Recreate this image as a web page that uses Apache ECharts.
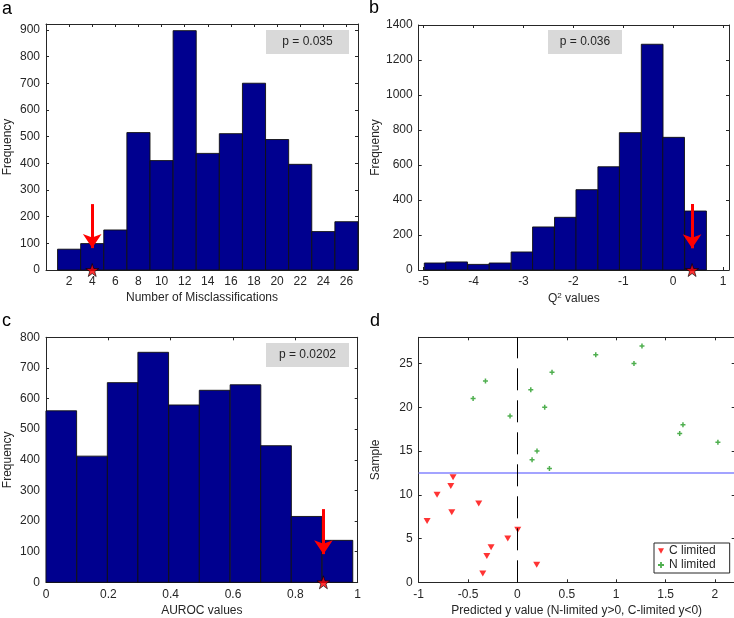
<!DOCTYPE html>
<html>
<head>
<meta charset="utf-8">
<script src="https://cdn.jsdelivr.net/npm/echarts@6/dist/echarts.min.js"></script>
<style>html,body{margin:0;padding:0;background:#fff}#c{width:734px;height:618px}</style>
</head>
<body>
<div id="c"></div>
<script>
// ---- Panel a: Number of Misclassifications ----
const aCenters = [2, 4, 6, 8, 10, 12, 14, 16, 18, 20, 22, 24, 26];
const aCounts = [78, 99, 150, 515, 410, 897, 437, 511, 700, 489, 396, 144, 181];
const aBinWidth = 2;
const aObserved = 4;
const aArrow = [247, 82];
const aXTicks = [2, 4, 6, 8, 10, 12, 14, 16, 18, 20, 22, 24, 26];
const aYTicks = [0, 100, 200, 300, 400, 500, 600, 700, 800, 900];
const aP = 'p = 0.035';

// ---- Panel b: Q2 values ----
const bCenters = [-4.77, -4.34, -3.90, -3.47, -3.03, -2.60, -2.16, -1.73, -1.29, -0.86, -0.42, 0.01, 0.45];
const bCounts = [40, 46, 32, 40, 103, 246, 301, 459, 590, 785, 1290, 758, 337];
const bBinWidth = 0.435;
const bObserved = 0.38;
const bArrow = [377, 124];
const bXTicks = [-5, -4, -3, -2, -1, 0, 1];
const bYTicks = [0, 200, 400, 600, 800, 1000, 1200, 1400];
const bP = 'p = 0.036';

// ---- Panel c: AUROC values ----
const cCenters = [0.049, 0.148, 0.246, 0.344, 0.443, 0.541, 0.640, 0.738, 0.836, 0.935];
const cCounts = [560, 412, 652, 751, 579, 627, 645, 446, 215, 137];
const cBinWidth = 0.0984;
const cObserved = 0.89;
const cArrow = [239, 92];
const cXTicks = [0, 0.2, 0.4, 0.6, 0.8, 1];
const cYTicks = [0, 100, 200, 300, 400, 500, 600, 700, 800];
const cP = 'p = 0.0202';

// ---- Panel d: predicted y values ----
const cLimitedX = [-0.351, 0.195, -0.31, -0.267, -0.098, 0.003, -0.915, -0.665, -0.392, -0.814, -0.675, -0.652];
const cLimitedY = [1, 2, 3, 4, 5, 6, 7, 8, 9, 10, 11, 12];
const nLimitedX = [0.324, 0.148, 0.198, 2.03, 1.643, 1.676, -0.075, 0.276, -0.449, 0.135, -0.324, 0.35, 1.18, 0.793, 1.261];
const nLimitedY = [13, 14, 15, 16, 17, 18, 19, 20, 21, 22, 23, 24, 25, 26, 27];
const dSplitY = 12.5;
const dXTicks = [-1, -0.5, 0, 0.5, 1, 1.5, 2];
const dYTicks = [0, 5, 10, 15, 20, 25];

const FONT = '"Liberation Sans", Arial, Helvetica, sans-serif';
const TXT = '#262626';
const AX = '#262626';
const STAR = 'path://M50,0 L61.8,35.1 L98.1,35.1 L68.8,56.8 L79.4,91 L50,70 L20.6,91 L31.2,56.8 L1.9,35.1 L38.2,35.1 Z';
const TRI_DOWN = 'path://M0,0 L10,0 L5,9 Z';
const PLUS = 'path://M3.5,0 H6.5 V3.5 H10 V6.5 H6.5 V10 H3.5 V6.5 H0 V3.5 H3.5 Z';
const GREEN = '#239b23';

const grids = [
  {left: 46, top: 24, width: 312, height: 246},
  {left: 418.7, top: 25, width: 310.3, height: 245},
  {left: 46, top: 337.3, width: 311.7, height: 245},
  {left: 418.7, top: 337.3, width: 316, height: 245}
].map(g => Object.assign({outerBoundsMode: 'none', containLabel: false}, g));

const ranges = [
  {x: [0, 27], y: [0, 922], xt: aXTicks, yt: aYTicks, xname: 'Number of Misclassifications', yname: 'Frequency', ygap: 32},
  {x: [-5.1, 1.12], y: [0, 1400], xt: bXTicks, yt: bYTicks, xname: 'Q{sup|2} values', yname: 'Frequency', ygap: 37},
  {x: [0, 1], y: [0, 800], xt: cXTicks, yt: cYTicks, xname: 'AUROC values', yname: 'Frequency', ygap: 32},
  {x: [-1, 2.2], y: [0, 28], xt: dXTicks, yt: dYTicks, xname: 'Predicted y value (N-limited y>0, C-limited y<0)', yname: 'Sample', ygap: 37}
];

const plain = v => String(v);

const xAxis = [], yAxis = [];
ranges.forEach((r, i) => {
  const lineStyle = {color: AX, width: 1};
  xAxis.push({
    type: 'value', gridIndex: i, min: r.x[0], max: r.x[1], position: 'bottom',
    axisLine: {show: true, onZero: false, lineStyle},
    axisTick: {show: true, inside: true, length: 3, customValues: r.xt, lineStyle},
    axisLabel: {show: true, customValues: r.xt, formatter: plain, color: TXT, fontFamily: FONT, fontSize: 12, margin: 6},
    splitLine: {show: false},
    name: r.xname, nameLocation: 'middle', nameGap: 22,
    nameTextStyle: {color: TXT, fontFamily: FONT, fontSize: 12,
      rich: {sup: {fontSize: 8, verticalAlign: 'top', color: TXT, fontFamily: FONT, padding: [0, 0, 6, 0]}}}
  });
  xAxis.push({
    type: 'value', gridIndex: i, min: r.x[0], max: r.x[1], position: 'top',
    axisLine: {show: true, onZero: false, lineStyle},
    axisTick: {show: true, inside: true, length: 3, customValues: r.xt, lineStyle},
    axisLabel: {show: false}, splitLine: {show: false}
  });
  yAxis.push({
    type: 'value', gridIndex: i, min: r.y[0], max: r.y[1], position: 'left',
    axisLine: {show: true, onZero: false, lineStyle},
    axisTick: {show: true, inside: true, length: 3, customValues: r.yt, lineStyle},
    axisLabel: {show: true, customValues: r.yt, formatter: plain, color: TXT, fontFamily: FONT, fontSize: 12, margin: 6},
    splitLine: {show: false},
    name: r.yname, nameLocation: 'middle', nameGap: r.ygap, nameRotate: 90,
    nameTextStyle: {color: TXT, fontFamily: FONT, fontSize: 12}
  });
  yAxis.push({
    type: 'value', gridIndex: i, min: r.y[0], max: r.y[1], position: 'right',
    axisLine: {show: true, onZero: false, lineStyle},
    axisTick: {show: true, inside: true, length: 3, customValues: r.yt, lineStyle},
    axisLabel: {show: false}, splitLine: {show: false}
  });
});

function histSeries(i, centers, counts, binWidth, obs, arrow) {
  return [{
    type: 'custom', xAxisIndex: 2 * i, yAxisIndex: 2 * i,
    data: centers.map((c, k) => [c, counts[k]]),
    renderItem: function (params, api) {
      const c = api.value(0), v = api.value(1);
      const p0 = api.coord([c - binWidth / 2, 0]);
      const p1 = api.coord([c + binWidth / 2, v]);
      return {type: 'rect',
        shape: {x: p0[0], y: p1[1], width: p1[0] - p0[0], height: p0[1] - p1[1]},
        style: {fill: '#00008F', stroke: '#111', lineWidth: 0.9}};
    },
    markLine: {
      silent: true, animation: false,
      symbol: ['none', 'arrow'], symbolSize: 14,
      label: {show: false},
      lineStyle: {color: '#ff0000', width: 3, type: 'solid'},
      data: [[{coord: [obs, arrow[0]]}, {coord: [obs, arrow[1]]}]]
    },
    z: 2
  }, {
    type: 'scatter', xAxisIndex: 2 * i, yAxisIndex: 2 * i,
    data: [[obs, 0]], symbol: STAR, symbolSize: 13, clip: false,
    itemStyle: {color: '#ff0000', borderColor: '#000', borderWidth: 0.8}, z: 5, silent: true
  }];
}

const series = [].concat(
  histSeries(0, aCenters, aCounts, aBinWidth, aObserved, aArrow),
  histSeries(1, bCenters, bCounts, bBinWidth, bObserved, bArrow),
  histSeries(2, cCenters, cCounts, cBinWidth, cObserved, cArrow),
  [{
    name: 'C limited', type: 'scatter', xAxisIndex: 6, yAxisIndex: 6,
    data: cLimitedX.map((x, k) => [x, cLimitedY[k]]),
    symbol: TRI_DOWN, symbolSize: [7, 6], itemStyle: {color: '#ff0000'}, z: 4,
    markLine: {
      silent: true, animation: false, symbol: ['none', 'none'], label: {show: false},
      data: [
        {yAxis: dSplitY, lineStyle: {color: '#a3a3ff', width: 2, type: 'solid'}},
        {xAxis: 0, lineStyle: {color: '#000', width: 1, type: [22, 10]}}
      ]
    }
  }, {
    name: 'N limited', type: 'scatter', xAxisIndex: 6, yAxisIndex: 6,
    data: nLimitedX.map((x, k) => [x, nLimitedY[k]]),
    symbol: PLUS, symbolSize: 5, itemStyle: {color: GREEN}, z: 4
  }]
);

function pBox(text, left, top, width) {
  return {type: 'group', left: left, top: top, children: [
    {type: 'rect', shape: {x: 0, y: 0, width: width, height: 24}, style: {fill: '#d9d9d9'}},
    {type: 'text', x: width / 2, y: 12, style: {text: text, fill: TXT, font: '12px ' + FONT, align: 'center', verticalAlign: 'middle'}}
  ]};
}
function letter(t, left, top) {
  return {type: 'text', left: left, top: top, style: {text: t, fill: '#000', font: '18px ' + FONT}};
}

const option = {
  animation: false,
  backgroundColor: '#fff',
  grid: grids,
  xAxis: xAxis,
  yAxis: yAxis,
  series: series,
  legend: {
    data: [
      {name: 'C limited', icon: TRI_DOWN, itemStyle: {color: '#ff0000'}},
      {name: 'N limited', icon: PLUS, itemStyle: {color: GREEN}}
    ],
    orient: 'vertical', left: 654, top: 543,
    itemWidth: 6, itemHeight: 6, itemGap: 0,
    padding: [1, 14, 1, 4],
    borderColor: '#262626', borderWidth: 1, backgroundColor: '#fff',
    textStyle: {color: TXT, fontFamily: FONT, fontSize: 12, lineHeight: 14},
    selectedMode: false
  },
  graphic: [
    pBox(aP, 266, 30, 83),
    pBox(bP, 548, 30, 74),
    pBox(cP, 266, 343, 83),
    letter('a', 2, 0),
    letter('b', 369, -1),
    letter('c', 2, 312),
    letter('d', 370, 312)
  ]
};

const chart = echarts.init(document.getElementById('c'), null, {renderer: 'canvas'});
chart.setOption(option);
</script>
</body>
</html>
